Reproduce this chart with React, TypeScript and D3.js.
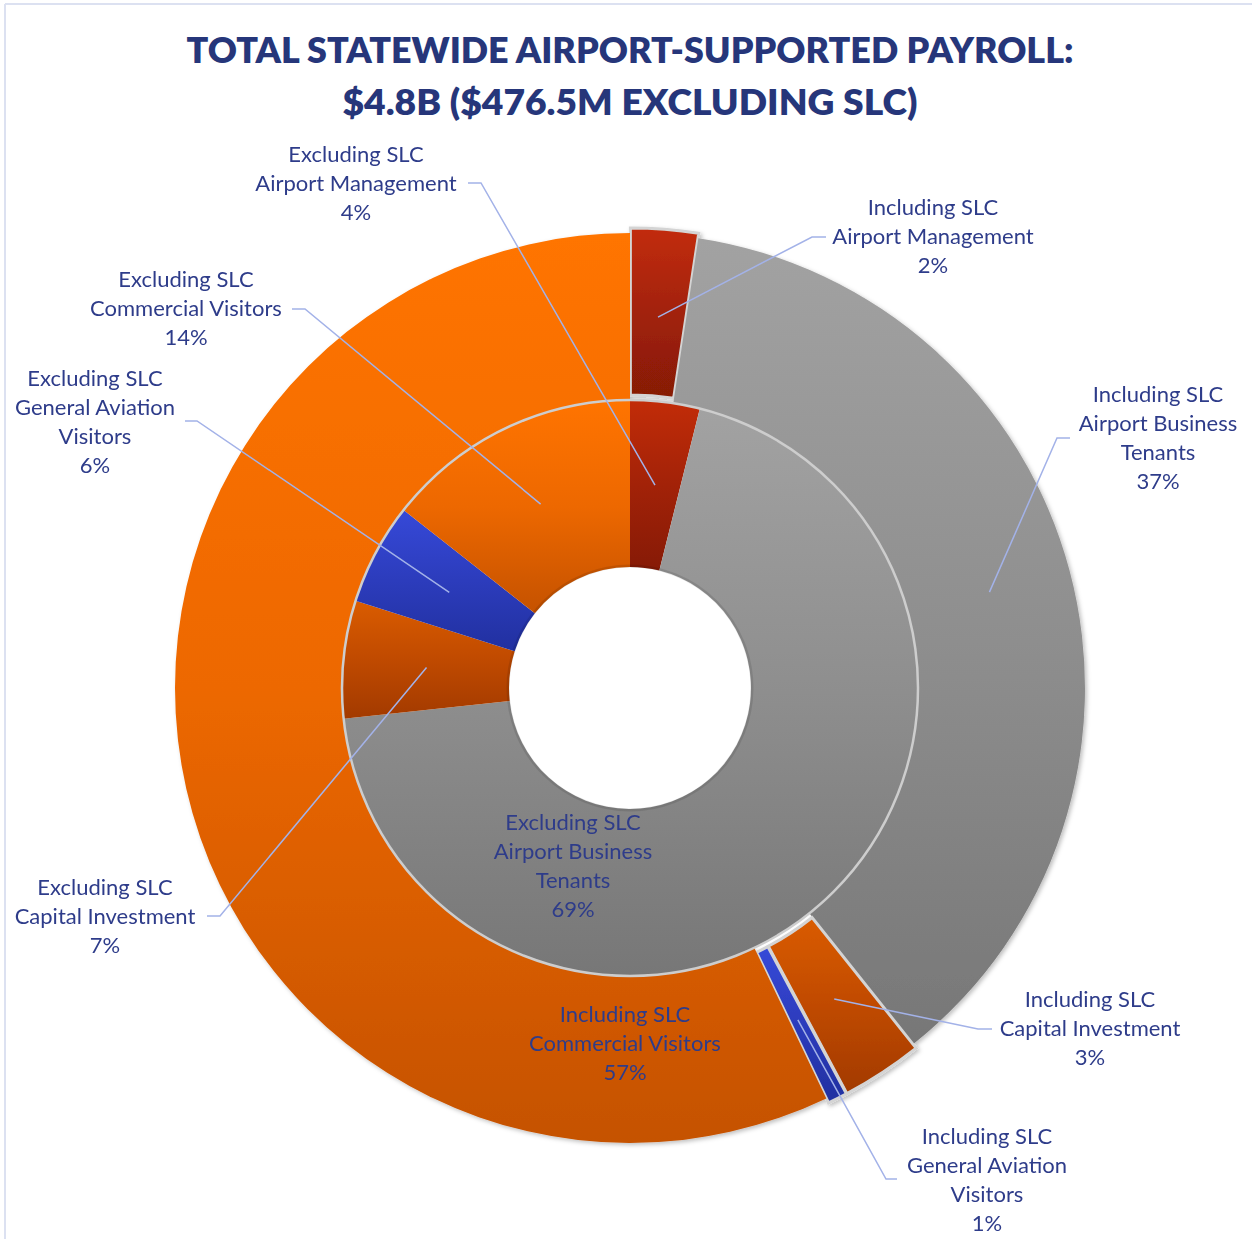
import React from 'react';
import * as d3 from 'd3';

// slice categories, in clockwise order from 12 o'clock
const categories = [
  'Airport Management',
  'Airport Business Tenants',
  'Capital Investment',
  'General Aviation Visitors',
  'Commercial Visitors',
];

// share of payroll (%)
const includingSLC = [2.4, 36.9, 2.9, 0.7, 57.1];
const excludingSLC = [3.9, 69.4, 6.6, 5.7, 14.4];

const titleLines = [
  'TOTAL STATEWIDE AIRPORT-SUPPORTED PAYROLL:',
  '$4.8B ($476.5M EXCLUDING SLC)',
];

// gradient stops (top -> bottom) per category
const fills: string[][] = [
  ['#c22c08', '#a22208', '#861a06'],
  ['#a2a2a2', '#8e8e8e', '#777777'],
  ['#da5c00', '#c04a00', '#a23a00'],
  ['#3649d8', '#2c3cbc', '#2130a0'],
  ['#ff7400', '#ed6800', '#c55200'],
];

// slices pulled out of the outer ring
const explodedOuter = [true, false, true, true, false];

const W = 1252;
const H = 1239;
const cx = 630;
const cy = 688;
const rHole = 121;
const rMid = 288;
const rOuter = 455;

const textColor = '#2e3c8a';
const leaderColor = '#a3b2e8';
const font = 'Lato, "Open Sans", sans-serif';

type LabelSpec = {
  ring: 'in' | 'out';
  idx: number;
  x: number;
  y: number; // baseline of first line
  lines: string[];
  leader?: [number, number][]; // label-side points: [end at label, elbow]
};

const labels: LabelSpec[] = [
  {ring: 'in', idx: 0, x: 356, y: 162, lines: ['Excluding SLC', 'Airport Management'], leader: [[468, 183], [481, 183]]},
  {ring: 'out', idx: 0, x: 933, y: 215, lines: ['Including SLC', 'Airport Management'], leader: [[826, 237], [812, 237]]},
  {ring: 'in', idx: 4, x: 186, y: 287, lines: ['Excluding SLC', 'Commercial Visitors'], leader: [[292, 309], [305, 309]]},
  {ring: 'in', idx: 3, x: 95, y: 386, lines: ['Excluding SLC', 'General Aviation', 'Visitors'], leader: [[185, 421], [197, 421]]},
  {ring: 'out', idx: 1, x: 1158, y: 402, lines: ['Including SLC', 'Airport Business', 'Tenants'], leader: [[1070, 438], [1057, 438]]},
  {ring: 'in', idx: 2, x: 105, y: 895, lines: ['Excluding SLC', 'Capital Investment'], leader: [[207, 916], [220, 916]]},
  {ring: 'in', idx: 1, x: 573, y: 830, lines: ['Excluding SLC', 'Airport Business', 'Tenants']},
  {ring: 'out', idx: 4, x: 625, y: 1022, lines: ['Including SLC', 'Commercial Visitors']},
  {ring: 'out', idx: 2, x: 1090, y: 1007, lines: ['Including SLC', 'Capital Investment'], leader: [[992, 1029], [978, 1029]]},
  {ring: 'out', idx: 3, x: 987, y: 1144, lines: ['Including SLC', 'General Aviation', 'Visitors'], leader: [[897, 1179], [886, 1179]]},
];

const pie = d3.pie<number>().sort(null).value(d => d).startAngle(0).endAngle(2 * Math.PI);

const App = () => {
  const outerArcs = pie(includingSLC);
  const innerArcs = pie(excludingSLC);
  const totalOut = d3.sum(includingSLC);
  const totalIn = d3.sum(excludingSLC);

  const arcOuter = d3.arc<d3.PieArcDatum<number>>().innerRadius(rMid).outerRadius(rOuter);
  const arcInner = d3.arc<d3.PieArcDatum<number>>().innerRadius(rHole).outerRadius(rMid);
  const labelArcOuter = d3.arc<d3.PieArcDatum<number>>().innerRadius(372).outerRadius(372);
  const labelArcInner = d3.arc<d3.PieArcDatum<number>>().innerRadius((rHole + rMid) / 2).outerRadius((rHole + rMid) / 2);

  const explode = (a: d3.PieArcDatum<number>, on: boolean) => {
    if (!on) return [0, 0];
    const m = (a.startAngle + a.endAngle) / 2;
    return [Math.sin(m) * 5, -Math.cos(m) * 5];
  };

  const line = d3.line();

  return (
    <svg width={W} height={H} style={{position: 'absolute', left: 0, top: 0, background: '#fff'}}>
      <defs>
        {fills.map((f, i) => (
          <linearGradient key={i} id={`g${i}`} x1="0" y1="0" x2="0" y2="1">
            <stop offset="0%" stopColor={f[0]} />
            <stop offset="50%" stopColor={f[1]} />
            <stop offset="100%" stopColor={f[2]} />
          </linearGradient>
        ))}
        <filter id="shadow" x="-10%" y="-10%" width="120%" height="120%">
          <feDropShadow dx="2" dy="2" stdDeviation="2" floodColor="#000" floodOpacity="0.25" />
        </filter>
      </defs>

      <line x1={5} y1={4} x2={W} y2={4} stroke="#dce1f1" strokeWidth={2} />
      <line x1={5} y1={4} x2={5} y2={H} stroke="#dce1f1" strokeWidth={2} />

      <g>
        {titleLines.map((t, i) => (
          <text key={i} x={630} y={[63, 115][i]} textAnchor="middle" fill="#26367a"
                fontFamily={font} fontWeight={800} fontSize={35}
                textLength={[887, 575][i]} lengthAdjust="spacingAndGlyphs">{t}</text>
        ))}
      </g>

      <g transform={`translate(${cx},${cy})`}>
        <g filter="url(#shadow)">
          {outerArcs.map((a, i) => {
            const [dx, dy] = explode(a, explodedOuter[i]);
            return (
              <path key={i} d={arcOuter(a) || ''} transform={`translate(${dx},${dy})`}
                    fill={`url(#g${i})`}
                    stroke={explodedOuter[i] ? '#d4d4d4' : 'none'} strokeWidth={3} />
            );
          })}
        </g>
        <g>
          {innerArcs.map((a, i) => (
            <path key={i} d={arcInner(a) || ''} fill={`url(#g${i})`} />
          ))}
          <circle r={rMid} fill="none" stroke="#cdcdcd" strokeWidth={2.5} />
          <circle r={rHole + 1} fill="none" stroke="#000" strokeOpacity={0.1} strokeWidth={3} />
        </g>
      </g>

      <g fill="none" stroke={leaderColor} strokeWidth={1.5}>
        {labels.filter(l => l.leader).map((l, i) => {
          const a = l.ring === 'out' ? outerArcs[l.idx] : innerArcs[l.idx];
          const c = (l.ring === 'out' ? labelArcOuter : labelArcInner).centroid(a);
          const pts: [number, number][] = [l.leader![0], l.leader![1], [c[0] + cx, c[1] + cy]];
          return <path key={i} d={line(pts) || ''} />;
        })}
      </g>

      <g fontFamily={font} fontSize={22} fill={textColor} textAnchor="middle">
        {labels.map((l, i) => {
          const v = l.ring === 'out' ? includingSLC[l.idx] / totalOut : excludingSLC[l.idx] / totalIn;
          const all = [...l.lines, `${Math.round(v * 100)}%`];
          return (
            <text key={i} x={l.x} y={l.y}>
              {all.map((s, j) => (
                <tspan key={j} x={l.x} dy={j === 0 ? 0 : 29}>{s}</tspan>
              ))}
            </text>
          );
        })}
      </g>
    </svg>
  );
};

export default App;
